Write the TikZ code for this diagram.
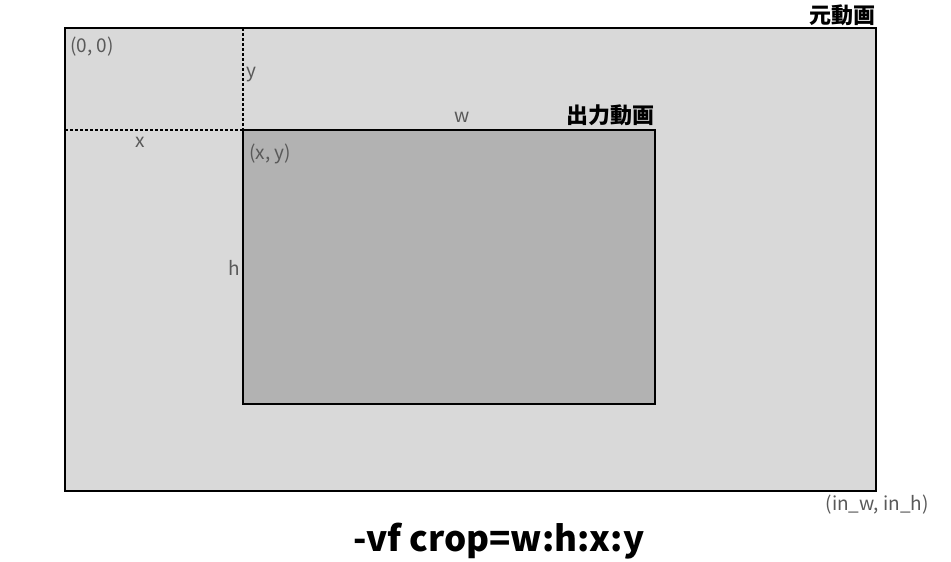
\documentclass[tikz,border=0pt]{standalone}
\usepackage{fontspec}
\setmainfont{Noto Sans CJK JP}
\begin{document}
\begin{tikzpicture}[x=1pt,y=-1pt,
  lab/.style={text=black!65, font=\fontsize{19}{19}\selectfont, inner sep=0pt},
  ttl/.style={text=black, font=\fontsize{22}{22}\selectfont\bfseries, inner sep=0pt},
  box/.style={draw=black, line width=1.8pt},
  guide/.style={draw=black, line width=2.6pt, dash pattern=on 2.6pt off 2.4pt}]
\useasboundingbox (0,0) rectangle (951,562);
\fill[white] (0,0) rectangle (951,562);
\path[box, fill=black!15] (65,28) rectangle (876,491);
\path[box, fill=black!30] (243,130) rectangle (655,404);
\coordinate (tl) at (243,130);
\coordinate (top) at (243,28);
\coordinate (left) at (65,130);
\path[guide] (top) -- (tl);
\path[guide] (left) -- (tl);
\node[ttl, anchor=east] (orig) at (876,15) {元動画};
\node[ttl, anchor=east] (out) at (655,115) {出力動画};
\node[lab] (w) at (462,117) {w};
\node[lab] (x) at (140,142) {x};
\node[lab] (y) at (251,75) {y};
\node[lab] (h) at (234,268) {h};
\node[lab, anchor=west] (o) at (70,47) {(0, 0)};
\node[lab, anchor=west] (xy) at (249,154) {(x, y)};
\node[lab, anchor=east] (in) at (929,505) {(in\_w, in\_h)};
\node[text=black, font=\fontsize{35}{35}\selectfont\bfseries, inner sep=0pt] (cmd) at (499,541) {-vf crop=w:h:x:y};
\end{tikzpicture}
\end{document}
